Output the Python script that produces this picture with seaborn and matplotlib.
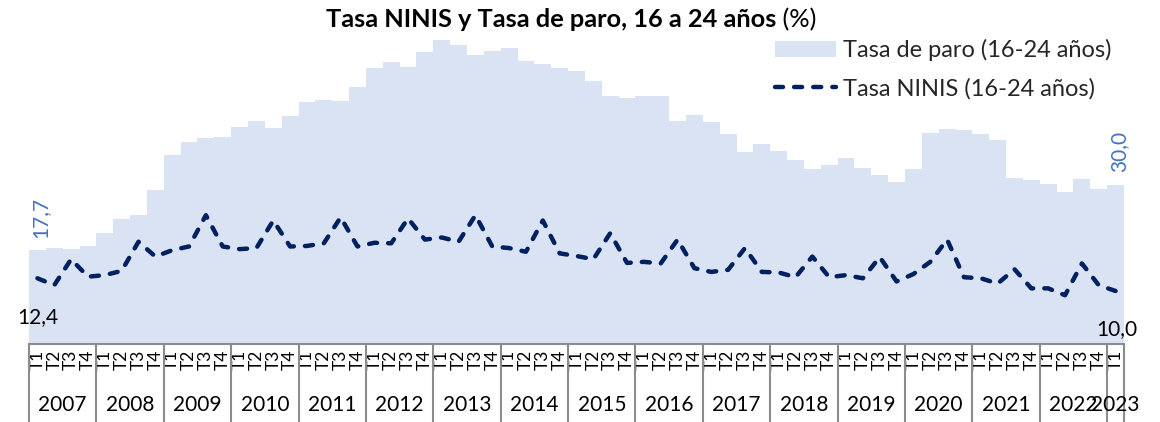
import matplotlib
matplotlib.use("Agg")
import matplotlib.pyplot as plt
import matplotlib.transforms as mtransforms
import seaborn as sns
import pandas as pd

# Quarterly series, 2007 T1 .. 2023 T1
years = list(range(2007, 2024))
quarter_names = ["T1", "T2", "T3", "T4"]
quarter_labels = quarter_names * 16 + ["T1"]
year_labels = [str(y) for y in years]

tasa_paro = [17.7, 18.1, 17.9, 18.5, 20.9, 23.6, 24.3, 29.1, 35.7, 38.1, 38.8,
             39.0, 41.0, 42.1, 40.8, 43.0, 45.6, 46.1, 45.9, 48.5, 52.0, 53.3,
             52.3, 55.1, 57.4, 56.5, 54.5, 55.3, 55.8, 53.4, 52.8, 52.0, 51.6,
             49.6, 46.7, 46.5, 46.7, 46.7, 42.1, 43.2, 41.8, 39.7, 36.2, 37.7,
             36.4, 34.8, 33.0, 33.8, 35.1, 33.3, 31.8, 30.6, 33.0, 39.8, 40.6,
             40.4, 39.7, 38.5, 31.3, 30.9, 30.2, 28.7, 31.1, 29.3, 30.0]

tasa_ninis = [12.4, 11.1, 16.0, 12.7, 13.0, 13.8, 19.3, 16.5, 17.7, 18.4, 24.3,
              18.4, 17.9, 18.1, 23.3, 18.4, 18.5, 19.0, 23.9, 18.4, 19.1, 19.0,
              23.7, 19.7, 20.1, 19.3, 24.3, 18.4, 18.1, 17.4, 23.3, 17.1, 16.6,
              16.0, 20.9, 15.3, 15.5, 15.2, 19.7, 14.3, 13.6, 14.0, 18.1, 13.6,
              13.5, 12.6, 16.5, 12.6, 13.0, 12.4, 16.4, 11.8, 13.2, 15.5, 19.7,
              12.6, 12.4, 11.4, 14.1, 10.5, 10.5, 9.2, 15.2, 11.1, 10.0]

PARO_COLOR = "#DAE3F3"
NINIS_COLOR = "#002060"
LABEL_BLUE = "#4472C4"
SEP_GREY = "#8C8C8C"

sns.set_theme(style="white")
plt.rcParams["font.family"] = ["Lato", "DejaVu Sans"]

n = len(tasa_paro)
df = pd.DataFrame({
    "pos": list(range(n)),
    "paro": tasa_paro,
    "ninis": tasa_ninis,
})

W, H = 1160, 422
fig = plt.figure(figsize=(W / 100, H / 100), dpi=100)
ax = fig.add_axes([29 / W, 78 / H, 1095 / W, 318 / H])

sns.barplot(data=df, x="pos", y="paro", native_scale=True, width=1.0,
            color=PARO_COLOR, saturation=1, errorbar=None, linewidth=0,
            ax=ax)
sns.lineplot(data=df, x="pos", y="ninis", color=NINIS_COLOR, linewidth=3.2,
             linestyle=(0, (1.8, 2.5)), dash_capstyle="round", ax=ax)

ax.set_xlim(-0.5, n - 0.5)
ax.set_ylim(0, 60)
ax.set_xlabel("")
ax.set_ylabel("")
ax.set_yticks([])
for side in ("left", "right", "top"):
    ax.spines[side].set_visible(False)
ax.spines["bottom"].set_color(SEP_GREY)
ax.spines["bottom"].set_linewidth(1.5)

# Quarter labels
ax.set_xticks(range(n))
ax.set_xticklabels(quarter_labels, rotation=90, fontsize=12.5, color="#000000")
ax.tick_params(axis="x", length=0, pad=4)
for lbl in ax.get_xticklabels():
    lbl.set_va("top")

# Year labels and separators below the axis
trans = mtransforms.blended_transform_factory(ax.transData, ax.transAxes)
sep_bottom = -78 / 318
year_y = -61 / 318
boundaries = [-0.5 + 4 * k for k in range(17)] + [n - 0.5]
for b in boundaries:
    ax.plot([b, b], [0, sep_bottom], transform=trans, color=SEP_GREY,
            linewidth=1.5, clip_on=False, solid_capstyle="butt")
for k, yl in enumerate(year_labels):
    start = 4 * k
    end = min(4 * k + 3, n - 1)
    ax.text((start + end) / 2, year_y, yl, transform=trans, ha="center",
            va="center", fontsize=15, color="#000000")

# Value labels at both ends
ax.annotate(f"{tasa_paro[0]:.1f}".replace(".", ","), xy=(0, tasa_paro[0]),
            xytext=(2, 9), textcoords="offset points", rotation=90,
            ha="center", va="bottom", fontsize=15, color=LABEL_BLUE)
ax.annotate(f"{tasa_paro[-1]:.1f}".replace(".", ","), xy=(n - 1, tasa_paro[-1]),
            xytext=(3, 9), textcoords="offset points", rotation=90,
            ha="center", va="bottom", fontsize=15, color=LABEL_BLUE)
ax.annotate(f"{tasa_ninis[0]:.1f}".replace(".", ","), xy=(0, tasa_ninis[0]),
            xytext=(0, -21), textcoords="offset points",
            ha="center", va="top", fontsize=15, color="#000000")
ax.annotate(f"{tasa_ninis[-1]:.1f}".replace(".", ","), xy=(n - 1, tasa_ninis[-1]),
            xytext=(1, -20), textcoords="offset points",
            ha="center", va="top", fontsize=15, color="#000000")

# Legend
bar_handle = ax.containers[0]
line_handle = ax.lines[0]
leg = ax.legend([bar_handle, line_handle],
                ["Tasa de paro (16-24 años)", "Tasa NINIS (16-24 años)"],
                loc="upper left", bbox_to_anchor=(775 / W, 1 - 39 / H),
                bbox_transform=fig.transFigure, frameon=False, fontsize=17,
                handlelength=2.6, handletextpad=0.3, labelspacing=0.72,
                borderpad=0, borderaxespad=0)

# Title: bold text followed by the unit in regular weight
t1 = fig.text(326 / W, 1 - 27 / H, "Tasa NINIS y Tasa de paro, 16 a 24 años",
              ha="left", va="baseline", fontsize=18.3, fontweight="bold",
              color="#000000")
ax.annotate(" (%)", xy=(1, 0), xycoords=t1, va="bottom", ha="left",
            fontsize=18.3, color="#000000", annotation_clip=False)

fig.savefig("out.png", dpi=100)
